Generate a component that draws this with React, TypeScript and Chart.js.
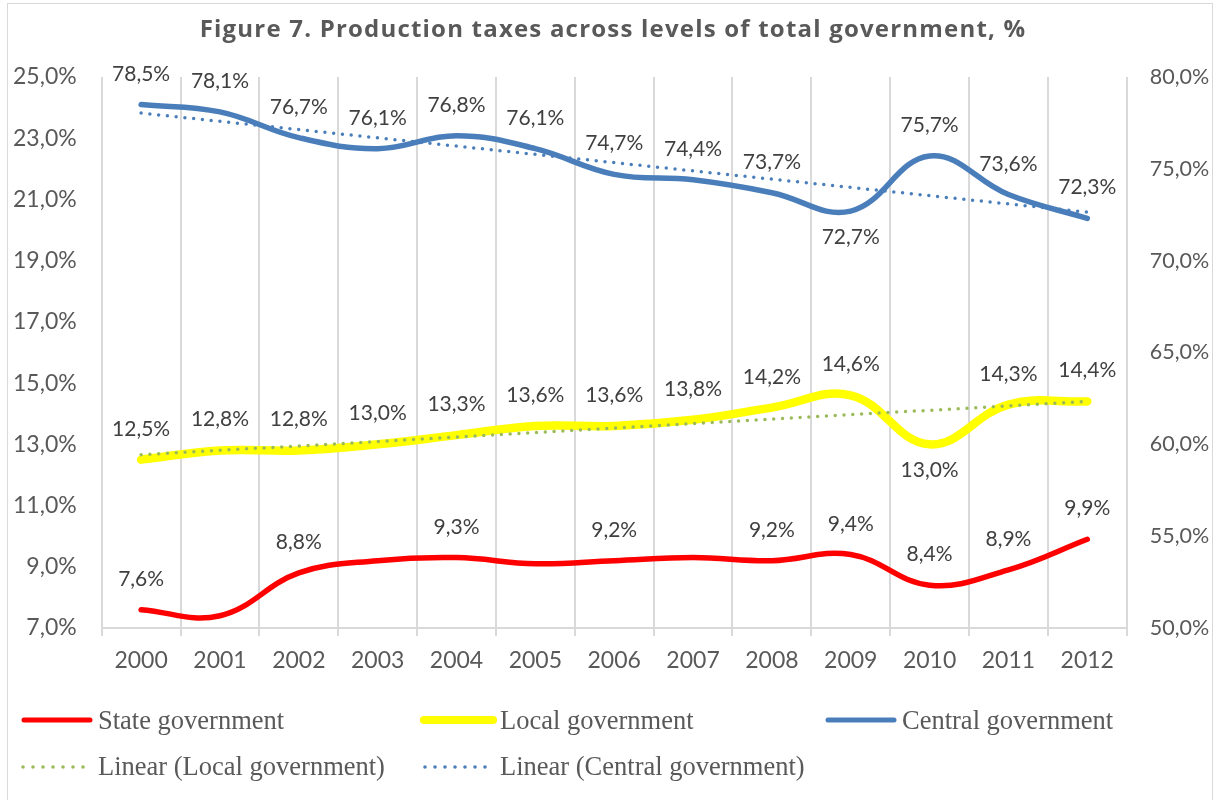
import React, { useEffect, useRef } from "react";
import { Chart, registerables } from "chart.js";

Chart.register(...registerables);

// ---- data ----
const years = ["2000", "2001", "2002", "2003", "2004", "2005", "2006", "2007", "2008", "2009", "2010", "2011", "2012"];
const stateGov = [7.6, 7.4, 8.8, 9.2, 9.3, 9.1, 9.2, 9.3, 9.2, 9.4, 8.4, 8.9, 9.9];
const localGov = [12.5, 12.8, 12.8, 13.0, 13.3, 13.6, 13.6, 13.8, 14.2, 14.6, 13.0, 14.3, 14.4];
const centralGov = [78.5, 78.1, 76.7, 76.1, 76.8, 76.1, 74.7, 74.4, 73.7, 72.7, 75.7, 73.6, 72.3];
const stateLabelShown = [true, false, true, false, true, false, true, false, true, true, true, true, true];
const localLabelBelow = [false, false, false, false, false, false, false, false, false, false, true, false, false];
const centralLabelBelow = [false, false, false, false, false, false, false, false, false, true, false, false, false];
const leftAxisRange = [7, 25, 2];
const rightAxisRange = [50, 80, 5];
const titleText = "Figure 7. Production taxes across levels of total government, %";
const seriesNames = ["State government", "Local government", "Central government", "Linear (Local government)", "Linear (Central government)"];

// ---- style ----
const SANS = "Lato, 'Open Sans', sans-serif";
const TITLE_FONT = "'Open Sans', Lato, sans-serif";
const SERIF = "'Liberation Serif', 'Times New Roman', serif";
const RED = "#ff0000";
const YELLOW = "#ffff00";
const BLUE = "#4a7ebb";
const GREEN = "#9bbb59";
const GRID = "#d9d9d9";
const TEXT = "#595959";
const LABEL = "#404040";
const LABEL_SIZE = 21;
const LEFT_TICK_SIZE = 23;
const X_TICK_SIZE = 23;
const RIGHT_TICK_SIZE = 21.5;

const fmt = (v: number) => v.toFixed(1).replace(".", ",") + "%";

function linearTrend(values: number[]): number[] {
  const n = values.length;
  const mx = (n - 1) / 2;
  const my = values.reduce((a, b) => a + b, 0) / n;
  let sxy = 0;
  let sxx = 0;
  values.forEach((v, i) => {
    sxy += (i - mx) * (v - my);
    sxx += (i - mx) * (i - mx);
  });
  const slope = sxy / sxx;
  return values.map((_, i) => my + slope * (i - mx));
}

const labelPlugin = {
  id: "pointValueLabels",
  afterDatasetsDraw(chart: any) {
    const ctx = chart.ctx;
    ctx.save();
    ctx.font = `${LABEL_SIZE}px ${SANS}`;
    ctx.fillStyle = LABEL;
    ctx.textAlign = "center";
    ctx.textBaseline = "alphabetic";
    const sets: [number, number[], boolean[], boolean[]][] = [
      [0, stateGov, stateLabelShown, stateGov.map(() => false)],
      [1, localGov, localGov.map(() => true), localLabelBelow],
      [2, centralGov, centralGov.map(() => true), centralLabelBelow],
    ];
    sets.forEach(([di, vals, shown, below]) => {
      const meta = chart.getDatasetMeta(di);
      vals.forEach((v, i) => {
        if (!shown[i]) return;
        const pt = meta.data[i];
        ctx.fillText(fmt(v), pt.x, below[i] ? pt.y + 33 : pt.y - 24);
      });
    });
    ctx.restore();
  },
};

const decorPlugin = {
  id: "titleAndLegend",
  afterDraw(chart: any) {
    const ctx = chart.ctx;
    ctx.save();
    // title
    ctx.font = `bold 24px ${TITLE_FONT}`;
    if ("letterSpacing" in ctx) (ctx as any).letterSpacing = "1.2px";
    ctx.fillStyle = TEXT;
    ctx.textAlign = "center";
    ctx.textBaseline = "alphabetic";
    ctx.fillText(titleText, 605, 33);
    if ("letterSpacing" in ctx) (ctx as any).letterSpacing = "0px";

    // legend
    ctx.font = `26.5px ${SERIF}`;
    ctx.textAlign = "left";
    const solid = (x1: number, x2: number, y: number, color: string, w: number) => {
      ctx.beginPath();
      ctx.strokeStyle = color;
      ctx.lineWidth = w;
      ctx.lineCap = "round";
      ctx.moveTo(x1, y);
      ctx.lineTo(x2, y);
      ctx.stroke();
    };
    const dots = (x1: number, y: number, color: string) => {
      ctx.fillStyle = color;
      for (let k = 0; k < 7; k++) {
        ctx.beginPath();
        ctx.arc(x1 + k * 10, y, 1.8, 0, Math.PI * 2);
        ctx.fill();
      }
    };
    const row1Line = 716;
    const row1Text = 725;
    const row2Line = 763;
    const row2Text = 771;
    solid(16, 82, row1Line, RED, 5);
    solid(416, 485, row1Line, YELLOW, 8);
    solid(820, 886, row1Line, BLUE, 5);
    dots(15, row2Line, GREEN);
    dots(417, row2Line, BLUE);
    ctx.fillStyle = TEXT;
    ctx.fillText(seriesNames[0], 90, row1Text);
    ctx.fillText(seriesNames[1], 492, row1Text);
    ctx.fillText(seriesNames[2], 894, row1Text);
    ctx.fillText(seriesNames[3], 90, row2Text);
    ctx.fillText(seriesNames[4], 492, row2Text);
    ctx.restore();
  },
};

export default function App() {
  const canvasRef = useRef<HTMLCanvasElement | null>(null);

  useEffect(() => {
    if (!canvasRef.current) return;
    const dotted = { borderDash: [0, 8.8], borderCapStyle: "round" as const, borderWidth: 3.5, tension: 0, pointRadius: 0, order: 0 };
    const chart = new Chart(canvasRef.current, {
      type: "line",
      data: {
        labels: years,
        datasets: [
          { label: seriesNames[0], data: stateGov, yAxisID: "y", borderColor: RED, backgroundColor: RED, borderWidth: 5.5, tension: 0.4, pointRadius: 0, order: 1, borderCapStyle: "round" },
          { label: seriesNames[1], data: localGov, yAxisID: "y", borderColor: YELLOW, backgroundColor: YELLOW, borderWidth: 8.5, tension: 0.4, pointRadius: 0, order: 1, borderCapStyle: "round" },
          { label: seriesNames[2], data: centralGov, yAxisID: "y2", borderColor: BLUE, backgroundColor: BLUE, borderWidth: 5.5, tension: 0.4, pointRadius: 0, order: 1, borderCapStyle: "round" },
          { label: seriesNames[3], data: linearTrend(localGov), yAxisID: "y", borderColor: GREEN, backgroundColor: GREEN, ...dotted },
          { label: seriesNames[4], data: linearTrend(centralGov), yAxisID: "y2", borderColor: BLUE, backgroundColor: BLUE, ...dotted },
        ],
      },
      options: {
        responsive: false,
        animation: false,
        layout: { padding: { top: 73, bottom: 123, left: 0, right: 0 } },
        plugins: {
          legend: { display: false },
          title: { display: false },
          tooltip: { enabled: false },
        },
        scales: {
          x: {
            type: "category",
            offset: true,
            grid: { offset: true, color: GRID, lineWidth: 2, tickLength: 8, drawTicks: true },
            border: { color: GRID, width: 2 },
            ticks: { color: TEXT, font: { family: SANS, size: X_TICK_SIZE }, padding: 11, maxRotation: 0, autoSkip: false },
            afterFit: (s: any) => { s.height = 50; },
          },
          y: {
            type: "linear",
            position: "left",
            min: leftAxisRange[0],
            max: leftAxisRange[1],
            grid: { display: false, drawTicks: false },
            border: { display: false },
            ticks: { stepSize: leftAxisRange[2], color: TEXT, font: { family: SANS, size: LEFT_TICK_SIZE }, padding: 25, callback: (v: any) => fmt(Number(v)) },
            afterFit: (s: any) => { s.width = 93.7; },
          },
          y2: {
            type: "linear",
            position: "right",
            min: rightAxisRange[0],
            max: rightAxisRange[1],
            grid: { display: false, drawTicks: false },
            border: { display: false },
            ticks: { stepSize: rightAxisRange[2], color: TEXT, font: { family: SANS, size: RIGHT_TICK_SIZE }, padding: 23, callback: (v: any) => fmt(Number(v)) },
            afterFit: (s: any) => { s.width = 85.3; },
          },
        },
      },
      plugins: [labelPlugin, decorPlugin],
    } as any);
    return () => chart.destroy();
  }, []);

  return (
    <div
      style={{
        position: "absolute",
        left: 7,
        top: 3,
        width: 1204,
        height: 800,
        border: "1px solid #d9d9d9",
        background: "#ffffff",
      }}
    >
      <canvas ref={canvasRef} width={1204} height={797} style={{ display: "block" }} />
    </div>
  );
}
